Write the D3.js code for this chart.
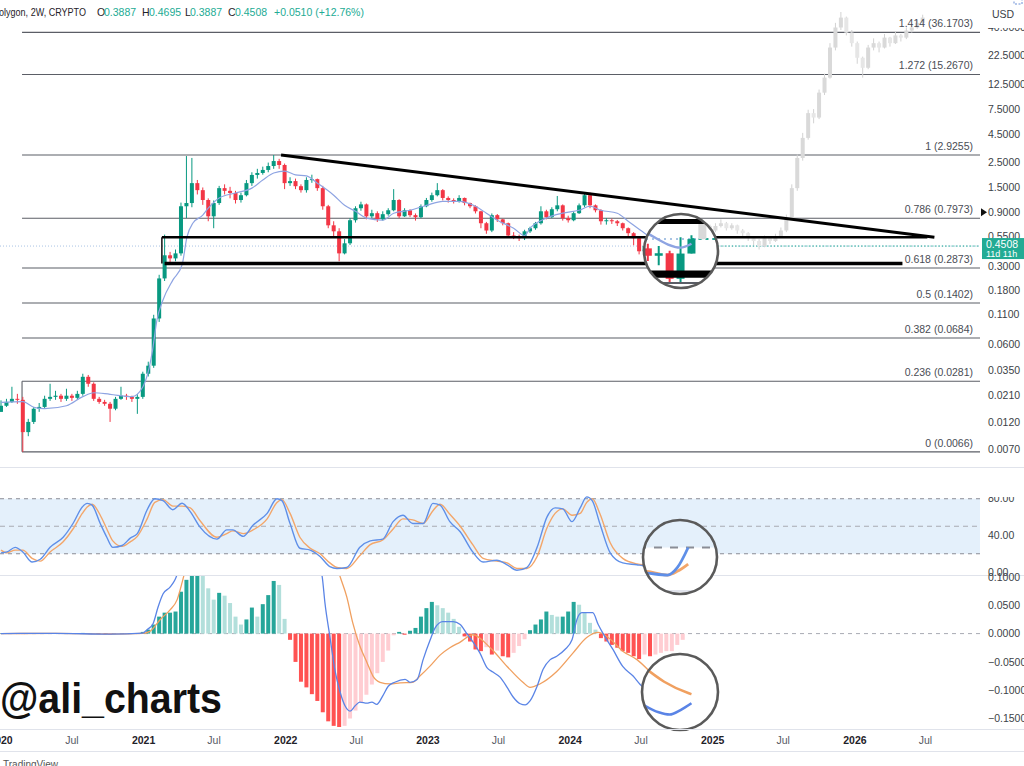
<!DOCTYPE html>
<html><head><meta charset="utf-8">
<script src="https://cdn.jsdelivr.net/npm/d3@7"></script>
<style>
html,body{margin:0;padding:0;background:#fff;overflow:hidden;}
svg{display:block;font-family:"Liberation Sans",Arial,sans-serif;}
</style></head><body>
<svg id="c" width="1024" height="766"></svg>
<script>
// ---------------- DATA ----------------
const firstBarDate = "2020-01-01";      // 2W bars
const firstOpen = 0.0150;
const closes = [0.0170,0.0184,0.0196,0.0192,0.0099,0.0122,0.0160,0.0166,0.0196,0.0204,
0.0209,0.0196,0.0209,0.0200,0.0217,0.0308,0.0267,0.0196,0.0184,0.0177,
0.0160,0.0196,0.0209,0.0204,0.0196,0.0204,0.0328,0.0387,0.102,0.232,
0.373,0.350,0.388,1.02,1.09,1.64,1.42,1.16,0.83,1.09,
1.48,1.40,1.34,1.16,1.28,1.64,1.94,2.02,2.15,2.33,
2.58,2.38,1.64,1.71,1.54,1.42,1.75,1.78,1.48,1.02,
0.69,0.61,0.388,0.477,0.766,0.98,1.06,0.83,0.885,0.78,
0.867,0.94,1.16,0.83,0.94,0.85,0.815,1.02,1.16,1.28,
1.42,1.21,1.16,1.13,1.21,1.09,1.02,0.92,0.72,0.62,
0.85,0.78,0.72,0.56,0.55,0.53,0.61,0.65,0.72,0.92,
0.815,0.96,1.04,0.798,0.766,0.885,1.04,1.28,1.04,0.94,
0.75,0.766,0.75,0.72,0.65,0.587,0.53,0.405,0.45,0.39,
0.41,0.38,0.39,0.30,0.3887,0.4508];
const highs = [0.0190,0.0196,0.0251,0.0217,0.0204,0.0130,0.0166,0.0180,0.0209,0.0267,
0.0231,0.0217,0.0241,0.0217,0.0231,0.0328,0.0320,0.0275,0.0204,0.0192,
0.0184,0.0204,0.0251,0.0217,0.0209,0.0217,0.0342,0.0420,0.110,0.250,
0.570,0.400,0.420,1.10,2.86,2.75,1.75,1.50,1.20,1.15,
1.55,1.60,1.52,1.40,1.35,1.75,2.05,2.20,2.30,2.50,
2.92,2.70,2.45,1.85,1.80,1.60,1.85,1.95,1.80,1.55,
1.05,0.75,0.65,0.52,0.80,1.02,1.12,1.08,0.95,0.92,
0.92,0.98,1.45,1.18,0.98,0.96,0.88,1.06,1.21,1.35,
1.64,1.45,1.25,1.20,1.28,1.22,1.10,1.04,0.93,0.74,
0.88,0.87,0.79,0.73,0.60,0.57,0.63,0.67,0.74,1.02,
0.95,1.00,1.26,1.06,0.84,0.92,1.08,1.34,1.35,1.06,
0.96,0.80,0.79,0.77,0.73,0.66,0.60,0.55,0.49,0.46,
0.44,0.43,0.42,0.40,0.46,0.4695];
const lows = [0.0150,0.0166,0.0180,0.0177,0.0066,0.0091,0.0117,0.0150,0.0160,0.0188,
0.0192,0.0184,0.0188,0.0188,0.0192,0.0209,0.0251,0.0188,0.0177,0.0170,
0.0122,0.0155,0.0192,0.0192,0.0184,0.0144,0.0196,0.0310,0.0370,0.095,
0.220,0.310,0.330,0.37,0.80,1.00,1.30,1.05,0.75,0.65,
1.05,1.30,1.20,1.08,1.10,1.25,1.55,1.80,1.95,2.05,
2.20,2.20,1.45,1.55,1.45,1.35,1.35,1.65,1.40,0.95,
0.65,0.55,0.33,0.38,0.46,0.73,0.93,0.78,0.80,0.74,
0.76,0.84,0.92,0.80,0.82,0.82,0.76,0.80,1.00,1.12,
1.25,1.15,1.10,1.08,1.10,1.04,0.98,0.88,0.65,0.58,
0.60,0.74,0.69,0.54,0.52,0.50,0.51,0.59,0.63,0.70,
0.78,0.80,0.92,0.76,0.73,0.75,0.87,1.00,0.98,0.90,
0.70,0.70,0.71,0.68,0.62,0.55,0.458,0.38,0.38,0.37,
0.37,0.36,0.345,0.29,0.29,0.3887];

// projected (ghost) bars pattern
const ghostClose = [0.53,0.56,0.62,0.68,0.62,0.68,0.72,0.65,0.69,0.62,
0.587,0.53,0.50,0.449,0.53,0.50,0.55,0.62,0.80,1.48,
2.75,4.15,6.9,6.3,10.5,14.3,26.5,40,49,36,
29,21.5,17.5,26.5,29,26.5,32.5,29,34,32.5,
37.6,40,44,49];
const ghostHigh = [0.58,0.62,0.68,0.74,0.70,0.72,0.78,0.74,0.72,0.70,
0.64,0.60,0.55,0.52,0.56,0.55,0.58,0.66,0.86,1.60,
2.95,4.6,7.4,7.5,11.2,15.5,29,44,55,50,
38,30,22,28,32,30,35,33,37,35,
40,43,47,52];
const ghostLow = [0.45,0.50,0.54,0.60,0.58,0.60,0.66,0.62,0.63,0.58,
0.55,0.50,0.46,0.42,0.44,0.47,0.49,0.54,0.60,0.78,
1.40,2.6,4.0,5.6,6.1,10,14,25,38,34,
27,19,14.3,17,25,24,26,27,28.5,30,
31.5,36,39,43];

// moving average (bar number, value)
const maBar = [0,4,6,8,12,15,17,20,24,26,27.7,28.6,29.7,31.5,33.2,34.1,35.2,37,38,40,
43,46,48,50,52,54,56,58,61,63,65,67,70,72,75,78,81,84,87,89,
91,94,96,97,100,103,106,108,110,113,115,118,121,124,125];
const maVal = [0.0182,0.0185,0.0165,0.0160,0.0170,0.0205,0.0222,0.0215,0.0205,0.025,
0.050,0.099,0.149,0.224,0.306,0.545,0.723,0.85,0.98,1.21,
1.34,1.48,1.75,2.02,2.10,1.94,1.90,1.64,1.28,1.04,
0.92,0.80,0.766,0.885,0.94,1.04,1.13,1.13,1.02,0.885,
0.766,0.65,0.56,0.65,0.80,0.885,0.94,1.02,0.94,0.885,
0.75,0.587,0.477,0.413,0.43];

// fibonacci levels
const fibRatios = ["1.414","1.272","1","0.786","0.618","0.5","0.382","0.236","0"];
const fibPrices = [36.1703,15.2670,2.9255,0.7973,0.2873,0.1402,0.0684,0.0281,0.0066];
const fibStartDate = "2020-02-24";

// hand-drawn lines
const trendDates = ["2021-12-20","2026-07-24"], trendPrices = [2.92,0.54];
const upperDates = ["2021-02-17","2026-07-06"], upperPrice = 0.54;
const lowerDates = ["2021-02-24","2026-05-03"], lowerPrice = 0.315;

// price axis ticks
const priceTicks = [40,22.5,12.5,7.5,4.5,2.5,1.5,0.9,0.55,0.3,0.18,0.11,0.06,0.035,0.021,0.012,0.007];
const lastPrice = 0.4508;

// Stoch RSI
const stochBar = [0,1.1,2.6,4,5.7,7.2,9,11.4,13.2,14.9,15.8,16.7,18.2,19.4,20.5,22.2,23.7,25,26.8,28.2,
29.7,31.5,33.2,34.7,36.5,39.6,41.4,42.5,44.4,46.2,48.8,50.6,51.5,53,54.8,56.7,58.5,60.3,61.6,63.4,
65.8,67.7,70,71.9,73.7,75.5,77.4,79.2,80.5,82.3,84.2,86.5,88.4,90.9,92.8,94.6,96.4,98.3,100.1,101.6,
103,104.7,106.2,107.4,108.4,109.8,111.7,114,116.6,117.7,120.9,122.8,123.7,124.7];
const stochK = [21,22,27,22,11,14,27,38,53,71,75,73,53,38,27,29,37,42,68,80,
78,68,75,66,49,36,46,46,39,51,64,80,78,53,26,24,17,6,4,5,
27,34,36,55,62,53,53,75,73,55,44,22,11,13,8,2,5,27,60,70,
69,55,70,82,78,53,21,10,8,7,6,5,9,20];
const stochD = [24,21,24,24,15,12,22,33,47,64,71,74,62,47,34,28,33,39,58,76,
79,72,72,70,56,38,42,45,42,46,58,76,79,64,38,26,20,10,5,4,
18,30,35,47,58,57,53,67,74,63,50,30,15,12,10,4,4,17,48,64,
69,62,64,76,80,64,32,15,9,8,7,5,7,11];
const stochTicks = [80,40,0];

// MACD
const macdHist = [0.0004,0.0005,0.0006,0.0004,-0.0008,-0.0006,0.0002,0.0004,0.0006,0.0007,
0.0006,0.0005,0.0006,0.0004,0.0005,0.0012,0.0008,-0.0004,-0.0009,-0.0012,
-0.0015,-0.0008,-0.0003,-0.0004,-0.0005,-0.0002,0.003,
0.007,0.016,0.03,0.037,0.037,0.039,0.074,0.095,0.12,0.13,0.105,0.08,0.06,0.072,0.067,0.054,0.03,0.016,0.025,0.046,0.03,0.052,0.068,0.093,0.086,0.026,
-0.011,-0.05,-0.085,-0.095,-0.107,-0.119,-0.139,-0.155,-0.163,-0.165,
-0.163,-0.15,-0.136,-0.122,-0.108,-0.09,-0.07,-0.05,-0.03,
-0.003,0.003,-0.002,0.005,
0.01,0.03,0.045,0.056,0.05,0.045,0.037,0.026,0.012,
-0.005,-0.014,-0.028,-0.031,-0.024,-0.037,-0.03,-0.04,-0.042,-0.034,-0.022,-0.01,
0.006,0.016,0.025,0.039,0.033,0.03,0.03,0.039,0.056,0.051,0.037,0.019,0.007,
-0.008,-0.014,-0.02,-0.025,-0.031,-0.034,-0.04,-0.045,-0.037,-0.04,-0.037,-0.034,-0.031,-0.031,-0.02,-0.011];
const macdBar = [0,10,20,26,26.8,27.9,28.8,29.7,31,31.9,32.5,34.7,40,47.5,53,56.7,58.9,59.4,60.3,61.2,
62.2,63.1,64,64.9,65.8,67.1,68,68.9,70,71,72.2,74.1,75,76.3,77.4,78.7,79.6,81,82.9,84.2,
85.4,86.5,87.8,89.1,90.2,91.5,92.8,93.9,95.2,96.1,97,98.3,99.4,100.7,101.9,103.4,104.7,105.6,106.5,107.6,
108.5,109.5,110.4,112.2,114,115.9,117.2,119,120.7,122,123,124,125];
const macdLine = [0,0.0005,-0.001,0.001,0.007,0.018,0.047,0.07,0.082,0.095,0.11,0.2,0.35,0.4,0.3,0.17,0.1,0.054,-0.005,-0.063,
-0.104,-0.128,-0.137,-0.128,-0.121,-0.123,-0.121,-0.125,-0.11,-0.093,-0.086,-0.081,-0.086,-0.081,-0.046,-0.011,0.01,0.021,0.021,0.016,
0,-0.014,-0.034,-0.06,-0.068,-0.077,-0.095,-0.112,-0.124,-0.126,-0.119,-0.093,-0.063,-0.046,-0.04,-0.028,-0.011,0.025,0.037,0.037,
0.037,0.016,0,-0.028,-0.058,-0.075,-0.09,-0.105,-0.116,-0.122,-0.124,-0.12,-0.114];
const signalBar = [0,10,20,26,27.3,29.2,31,32.3,33.2,33.6,40,49,56.7,61.2,62.2,63.4,64.5,65.8,67.1,68.2,
69.5,71.3,73.2,75.5,76.8,78.7,80.5,82.3,84.2,86.5,89.7,92.8,95.7,97,98.8,101.9,104.9,107.4,109.5,111.1,
114,116.6,120.5,122.5,124.7,125];
const signalLine = [0,0.0004,-0.0008,0.0005,0.004,0.025,0.042,0.06,0.09,0.105,0.3,0.38,0.28,0.13,0.1,0.065,0.019,-0.022,-0.051,-0.075,
-0.086,-0.089,-0.087,-0.086,-0.075,-0.057,-0.038,-0.025,-0.015,-0.002,-0.025,-0.058,-0.086,-0.095,-0.089,-0.067,-0.034,-0.007,0.002,-0.005,
-0.031,-0.046,-0.081,-0.095,-0.105,-0.106];
const macdTicks = [0.1,0.05,0,-0.05,-0.1,-0.15];

const timeTicks = ["2020-01-01","2020-07-01","2021-01-01","2021-07-01","2022-01-01","2022-07-01","2023-01-01","2023-07-01","2024-01-01","2024-07-01","2025-01-01","2025-07-01","2026-01-01","2026-07-01"];

// ---------------- SCALES ----------------
const parse = d3.utcParse("%Y-%m-%d");
const DAY = 86400000;
const t0 = parse(firstBarDate);
const barDate = b => new Date(t0.getTime() + b*14*DAY);
const x = d3.scaleUtc().domain([parse("2020-01-01"), parse("2027-01-01")]).range([1, 997.1]);
const xb = b => x(barDate(b));
const yP = d3.scaleLog().domain([0.007, 40]).range([449, 27.5]);
const yS = d3.scaleLinear().domain([0, 100]).range([572.1, 480.4]);
const yM = d3.scaleLinear().domain([-0.15, 0.1]).range([718.5, 577]);

const PLOT_R = 980;
const UP = "#089981", DN = "#f23645";

const svg = d3.select("#c");
const defs = svg.append("defs");
function clipRect(id, x0, y0, w, h){ defs.append("clipPath").attr("id", id).append("rect").attr("x", x0).attr("y", y0).attr("width", w).attr("height", h); }
clipRect("mainClip", 0, 0, PLOT_R, 466);
clipRect("stochClip", 0, 468, PLOT_R, 107);
clipRect("macdClip", 0, 576, PLOT_R, 152);

svg.append("rect").attr("width", 1024).attr("height", 766).attr("fill", "#fff");

const bars = closes.map((c, i) => ({b: i, o: i ? closes[i-1] : firstOpen, h: highs[i], l: lows[i], c}));
const ghost = ghostClose.map((c, j) => ({b: closes.length + j, o: j ? ghostClose[j-1] : closes[closes.length-1], h: ghostHigh[j], l: ghostLow[j], c}));

// ---------------- MAIN PANEL ----------------
function drawMain(g){
  const p = g.append("g").attr("clip-path", "url(#mainClip)");
  const fx = x(parse(fibStartDate));
  p.selectAll(".fib").data(fibPrices).join("line")
    .attr("x1", fx).attr("x2", PLOT_R).attr("y1", d => yP(d)).attr("y2", d => yP(d))
    .attr("stroke", "#5b5e66").attr("stroke-width", 1.1);
  p.append("line").attr("x1", fx).attr("x2", fx).attr("y1", yP(fibPrices[7])).attr("y2", yP(fibPrices[8]))
    .attr("stroke", "#5b5e66").attr("stroke-width", 1.1);
  p.append("line").attr("x1", 0).attr("x2", PLOT_R).attr("y1", yP(lastPrice)).attr("y2", yP(lastPrice))
    .attr("stroke", "#a9c4e4").attr("stroke-width", 1).attr("stroke-dasharray", "1,2");
  p.append("line").attr("x1", xb(closes.length-1)).attr("x2", PLOT_R).attr("y1", yP(lastPrice)).attr("y2", yP(lastPrice))
    .attr("stroke", "#22ab94").attr("stroke-width", 1).attr("stroke-dasharray", "1.5,2");
  const gg = p.append("g");
  gg.selectAll("line").data(ghost).join("line")
    .attr("x1", d => xb(d.b)).attr("x2", d => xb(d.b)).attr("y1", d => yP(d.h)).attr("y2", d => yP(d.l))
    .attr("stroke", "#d2d2d2").attr("stroke-width", 1);
  gg.selectAll("rect").data(ghost).join("rect")
    .attr("x", d => xb(d.b) - 2).attr("width", 4)
    .attr("y", d => yP(Math.max(d.o, d.c))).attr("height", d => Math.max(1, Math.abs(yP(d.o) - yP(d.c))))
    .attr("fill", d => d.c >= d.o ? "#d9d9d9" : "#e6e6e6");
  const cg = p.append("g");
  cg.selectAll("line").data(bars).join("line")
    .attr("x1", d => xb(d.b)).attr("x2", d => xb(d.b)).attr("y1", d => yP(d.h)).attr("y2", d => yP(d.l))
    .attr("stroke", d => d.c >= d.o ? UP : DN).attr("stroke-width", 1);
  cg.selectAll("rect").data(bars).join("rect")
    .attr("x", d => xb(d.b) - 2).attr("width", 4)
    .attr("y", d => yP(Math.max(d.o, d.c))).attr("height", d => Math.max(1, Math.abs(yP(d.o) - yP(d.c))))
    .attr("fill", d => d.c >= d.o ? UP : DN);
  const ma = maBar.map((b, i) => [b, maVal[i]]);
  p.append("path").attr("d", d3.line().x(d => xb(d[0])).y(d => yP(d[1])).curve(d3.curveMonotoneX)(ma))
    .attr("fill", "none").attr("stroke", "#8ea4e2").attr("stroke-width", 1.2);
  p.append("line").attr("x1", x(parse(upperDates[0]))).attr("x2", x(parse(upperDates[1])))
    .attr("y1", yP(upperPrice)).attr("y2", yP(upperPrice)).attr("stroke", "#000").attr("stroke-width", 2.4);
  p.append("line").attr("x1", x(parse(upperDates[0]))).attr("x2", x(parse(upperDates[0])))
    .attr("y1", yP(upperPrice)).attr("y2", yP(lowerPrice)).attr("stroke", "#000").attr("stroke-width", 1.4);
  p.append("line").attr("x1", x(parse(lowerDates[0]))).attr("x2", x(parse(lowerDates[1])))
    .attr("y1", yP(lowerPrice)).attr("y2", yP(lowerPrice)).attr("stroke", "#000").attr("stroke-width", 3.6);
  p.append("line").attr("x1", x(parse(trendDates[0]))).attr("x2", x(parse(trendDates[1])))
    .attr("y1", yP(trendPrices[0])).attr("y2", yP(trendPrices[1])).attr("stroke", "#000").attr("stroke-width", 3);
}

// ---------------- STOCH PANEL ----------------
function drawStoch(g){
  const p = g.append("g").attr("clip-path", "url(#stochClip)");
  p.append("rect").attr("x", 0).attr("width", PLOT_R).attr("y", yS(80)).attr("height", yS(20) - yS(80)).attr("fill", "#e4f0fb");
  [80, 50, 20].forEach(v => {
    p.append("line").attr("x1", 0).attr("x2", PLOT_R).attr("y1", yS(v)).attr("y2", yS(v))
      .attr("stroke", v === 50 ? "#a8abb3" : "#8a8d96").attr("stroke-width", 1).attr("stroke-dasharray", v === 50 ? "5,4" : "4,4");
  });
  const ln = d3.line().x(d => xb(d[0])).y(d => yS(d[1])).curve(d3.curveMonotoneX);
  p.append("path").attr("d", ln(stochBar.map((b, i) => [b, stochD[i]]))).attr("fill", "none").attr("stroke", "#f3a66a").attr("stroke-width", 1.4);
  p.append("path").attr("d", ln(stochBar.map((b, i) => [b, stochK[i]]))).attr("fill", "none").attr("stroke", "#5f8fe8").attr("stroke-width", 1.4);
  g.append("line").attr("x1", 0).attr("x2", 1024).attr("y1", 575.5).attr("y2", 575.5).attr("stroke", "#e0e3eb");
}

// ---------------- MACD PANEL ----------------
function drawMacd(g){
  const p = g.append("g").attr("clip-path", "url(#macdClip)");
  p.append("line").attr("x1", 0).attr("x2", PLOT_R).attr("y1", yM(0)).attr("y2", yM(0))
    .attr("stroke", "#a8abb3").attr("stroke-width", 1).attr("stroke-dasharray", "4,4");
  p.selectAll("rect").data(macdHist).join("rect")
    .attr("x", (d, i) => xb(i) - 2).attr("width", 4)
    .attr("y", d => Math.min(yM(d), yM(0))).attr("height", d => Math.abs(yM(d) - yM(0)))
    .attr("fill", (d, i) => {
      const prev = i ? macdHist[i-1] : 0;
      if (d >= 0) return d >= prev ? "#26a69a" : "#b2dfdb";
      return d < prev ? "#ff5252" : "#ffcdd2";
    });
  const ln = d3.line().x(d => xb(d[0])).y(d => yM(d[1])).curve(d3.curveMonotoneX);
  p.append("path").attr("d", ln(signalBar.map((b, i) => [b, signalLine[i]]))).attr("fill", "none").attr("stroke", "#f0a060").attr("stroke-width", 1.3);
  p.append("path").attr("d", ln(macdBar.map((b, i) => [b, macdLine[i]]))).attr("fill", "none").attr("stroke", "#5a84e6").attr("stroke-width", 1.3);
}

const root = svg.append("g");
drawMain(root);
root.append("line").attr("x1", 0).attr("x2", 1024).attr("y1", 467.5).attr("y2", 467.5).attr("stroke", "#e0e3eb");
drawStoch(root);
drawMacd(root);

// ---------------- LENSES (loupes) ----------------
let lensN = 0;
function lens(cx, cy, r, mx, my, fn){
  const id = "lens" + (lensN++);
  defs.append("clipPath").attr("id", id).append("circle").attr("cx", cx).attr("cy", cy).attr("r", r);
  const lg = svg.append("g").attr("clip-path", `url(#${id})`);
  lg.append("circle").attr("cx", cx).attr("cy", cy).attr("r", r).attr("fill", "#fff");
  const inner = lg.append("g").attr("transform", `translate(${mx},${my}) scale(2) translate(${-mx},${-my})`);
  fn(inner);
  svg.append("circle").attr("cx", cx).attr("cy", cy).attr("r", r).attr("fill", "none").attr("stroke", "#5a5a5a").attr("stroke-width", 2.6);
}
lens(681, 251, 37, 674, 253, drawMain);
lens(680, 557, 37, 674, 560, drawStoch);
lens(680, 692, 38, 674, 693, drawMacd);

// ---------------- AXES & TEXT ----------------
const ax = svg.append("g").attr("font-size", 10.5).attr("fill", "#3c3f47");
fibRatios.forEach((r, i) => {
  ax.append("text").attr("x", 973).attr("y", yP(fibPrices[i]) - 5).attr("text-anchor", "end")
    .attr("fill", "#4a4d55").text(`${r} (${fibPrices[i].toFixed(4)})`);
});
clipRect("paxClip", 982, 28, 42, 440);
const pax = ax.append("g").attr("clip-path", "url(#paxClip)");
priceTicks.forEach(v => pax.append("text").attr("x", 988).attr("y", yP(v)).attr("dy", "0.35em").text(v.toFixed(4)));
svg.append("text").attr("x", 992).attr("y", 18).attr("font-size", 10.5).attr("fill", "#3c3f47").text("USD");
svg.append("rect").attr("x", 1014).attr("y", -4).attr("width", 8).attr("height", 8).attr("fill", "none").attr("stroke", "#6b8fd6").attr("stroke-dasharray", "2,1.5");
svg.append("path").attr("d", `M981,${yP(0.9)-4} L987,${yP(0.9)} L981,${yP(0.9)+4} Z`).attr("fill", "#111");
const ly = yP(lastPrice);
svg.append("rect").attr("x", 982).attr("y", ly - 8).attr("width", 42).attr("height", 21).attr("fill", "#22ab94");
svg.append("text").attr("x", 986).attr("y", ly + 2).attr("font-size", 10.5).attr("fill", "#fff").text(lastPrice.toFixed(4));
svg.append("text").attr("x", 986).attr("y", ly + 11).attr("font-size", 9).attr("fill", "#fff").text("11d 11h");
clipRect("saxClip", 982, 497, 42, 80);
const sax = ax.append("g").attr("clip-path", "url(#saxClip)");
stochTicks.forEach(v => sax.append("text").attr("x", 988).attr("y", yS(v)).attr("dy", "0.35em").text(v.toFixed(2)));
macdTicks.forEach(v => ax.append("text").attr("x", 988).attr("y", yM(v)).attr("dy", "0.35em").text((v < 0 ? "\u2212" : "") + Math.abs(v).toFixed(4)));
svg.append("line").attr("x1", 0).attr("x2", 1024).attr("y1", 729.5).attr("y2", 729.5).attr("stroke", "#e0e3eb");
svg.append("line").attr("x1", 0).attr("x2", 1024).attr("y1", 751.5).attr("y2", 751.5).attr("stroke", "#e0e3eb");
timeTicks.forEach(s => {
  const d = parse(s), jan = d.getUTCMonth() === 0;
  svg.append("text").attr("x", x(d)).attr("y", 744).attr("text-anchor", "middle")
    .attr("font-size", 10.5).attr("font-weight", jan ? "bold" : "normal").attr("fill", jan ? "#1f2229" : "#555963")
    .text(jan ? d.getUTCFullYear() : "Jul");
});
svg.append("text").attr("x", 3).attr("y", 768).attr("font-size", 10).attr("fill", "#555").text("TradingView");

// header
svg.append("text").attr("x", -7).attr("y", 16).attr("font-size", 10.5).attr("fill", "#1f2229")
  .attr("textLength", 93).attr("lengthAdjust", "spacingAndGlyphs").text("Polygon, 2W, CRYPTO");
const head = [["O", 97, "#1f2229"], ["0.3887", 104, "#22ab94"], ["H", 142, "#1f2229"], ["0.4695", 149, "#22ab94"],
  ["L", 185, "#1f2229"], ["0.3887", 190, "#22ab94"], ["C", 228, "#1f2229"], ["0.4508", 235, "#22ab94"], ["+0.0510 (+12.76%)", 274, "#22ab94"]];
head.forEach(h => svg.append("text").attr("x", h[1]).attr("y", 16).attr("font-size", 10.5).attr("fill", h[2]).text(h[0]));

// watermark
svg.append("text").attr("x", 0).attr("y", 713).attr("font-size", 42).attr("font-weight", "bold").attr("fill", "#111")
  .attr("textLength", 222).attr("lengthAdjust", "spacingAndGlyphs").text("@ali_charts");
</script>
</body></html>
